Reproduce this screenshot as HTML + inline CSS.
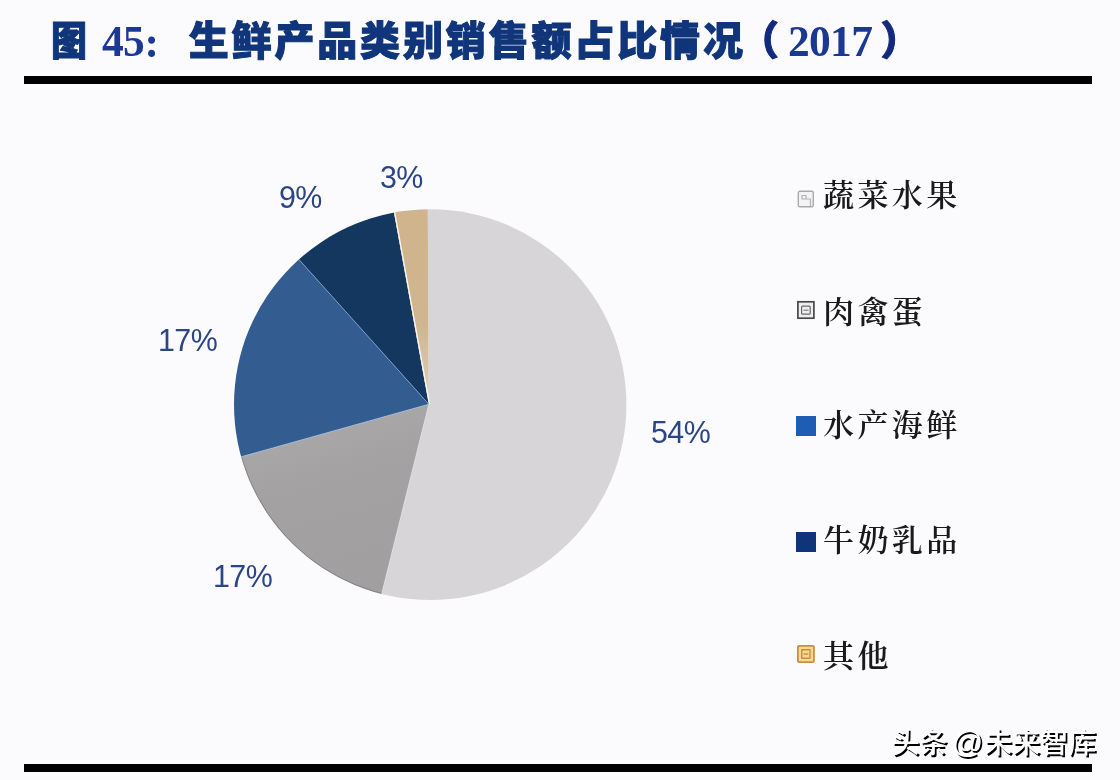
<!DOCTYPE html>
<html lang="zh-CN">
<head>
<meta charset="utf-8">
<title>图 45：生鲜产品类别销售额占比情况（2017）</title>
<style>
  html, body { margin: 0; padding: 0; }
  body {
    width: 1120px; height: 780px; overflow: hidden; position: relative;
    background: #fbfbfe;
    font-family: "Liberation Sans", "Noto Sans CJK SC", sans-serif;
  }
  h1, figure, ul, li, p { margin: 0; padding: 0; font-weight: inherit; font-size: inherit; list-style: none; }
  .abs { position: absolute; display: block; white-space: nowrap; line-height: 1; }

  /* horizontal rules */
  .rule { position: absolute; left: 24px; width: 1068.2px; height: 8px; background: #000; }
  #rule-top { top: 76px; }
  #rule-bottom { top: 764px; }

  /* title */
  #title { position: absolute; left: 0; top: 0; width: 1120px; height: 76px; }
  .t-cjk { font-family: "Liberation Serif", "Noto Sans CJK SC", sans-serif; font-weight: 900; font-size: 40px;
           color: #10357a; -webkit-text-stroke: 1px #10357a; top: 21.8px; }
  .t-num { font-family: "Liberation Serif", "Noto Serif CJK SC", serif; font-weight: 700; font-size: 43.5px;
           letter-spacing: -0.7px; color: #1b3893; top: 19.5px; }
  .t-par { color: #13297d; -webkit-text-stroke-color: #13297d; }

  /* pie */
  #chart { position: absolute; left: 0; top: 0; width: 1120px; height: 780px; }
  #pie { position: absolute; left: 0; top: 0; }
  .lbl { font-family: "Liberation Sans", sans-serif; font-size: 32px; letter-spacing: -0.6px; color: #2b4587;
         transform: scaleX(0.95); transform-origin: 0 50%; }

  /* legend */
  #legend { position: absolute; left: 0; top: 0; }
  .lg { font-family: "Liberation Serif", "Noto Serif CJK SC", serif; font-weight: 600; font-size: 31px;
        letter-spacing: 3.4px; color: #1a1a1a; left: 823px; }
  .mk { position: absolute; display: block; left: 796px; width: 20px; height: 20px; }

  /* watermark */
  #wm { font-family: "Liberation Sans", "Noto Sans CJK SC", sans-serif; font-size: 28px; font-weight: 500; color: #fff;
        text-shadow: 1.8px 1.8px 0.3px #000; left: 891.5px; top: 726.5px; }
  #wm .at { font-size: 31px; margin: 0 1px 0 -3.5px; }
</style>
</head>
<body>

  <h1 id="title">
    <span class="abs t-cjk" id="t1" style="left:48.8px; transform:scaleX(0.9); transform-origin:50% 50%;">图</span>
    <span class="abs t-num" id="t2" style="left:102px;">45</span>
    <span class="abs t-num" id="t3" style="left:144.5px; top:20.5px;">:</span>
    <span class="abs t-cjk" id="t4" style="left:188.7px; letter-spacing:2.85px;">生鲜产品类别销售额占比情况</span>
    <span class="abs t-cjk t-par" id="t5" style="left:739px;">（</span>
    <span class="abs t-num" id="t6" style="left:788px;">2017</span>
    <span class="abs t-cjk t-par" id="t7" style="left:880.5px;">）</span>
  </h1>

  <div class="rule" id="rule-top"></div>

  <figure id="chart">
    <svg id="pie" width="1120" height="780" viewBox="0 0 1120 780">
      <defs>
        <clipPath id="disc"><ellipse cx="430.2" cy="404.6" rx="196.2" ry="195.4"/></clipPath>
        <clipPath id="wedge2"><path d="M428.8 404.2 L327.4 811.8 L224.8 771.3 L136.2 705.5 L67.8 618.9 L24.4 517.5 Z"/></clipPath>
        <linearGradient id="tg" gradientUnits="userSpaceOnUse" x1="0" y1="209" x2="0" y2="404">
          <stop offset="0" stop-color="#cfb48c"/>
          <stop offset="0.6" stop-color="#d0b690"/>
          <stop offset="0.9" stop-color="#d8cab2"/>
          <stop offset="1" stop-color="#d7d5d8"/>
        </linearGradient>
        <linearGradient id="gg" gradientUnits="userSpaceOnUse" x1="300" y1="430" x2="345" y2="590">
          <stop offset="0" stop-color="#a9a7a8"/>
          <stop offset="0.35" stop-color="#a3a1a2"/>
          <stop offset="1" stop-color="#a19fa0"/>
        </linearGradient>
      </defs>
      <g clip-path="url(#disc)">
        <!-- 54% 蔬菜水果 -->
        <path d="M428.8 404.2 L426.6 -15.8 L568.3 8.0 L691.9 76.8 L785.7 182.8 L839.0 313.9 L845.7 455.3 L805.1 590.8 L721.7 705.2 L605.2 785.4 L468.6 822.3 L327.4 811.8 Z" fill="#d7d5d8"/>
        <!-- 17% 肉禽蛋 -->
        <path d="M428.8 404.2 L327.4 811.8 L224.8 771.3 L136.2 705.5 L67.8 618.9 L24.4 517.5 Z" fill="url(#gg)"/>
        <!-- 17% 水产海鲜 -->
        <path d="M428.8 404.2 L24.4 517.5 L8.8 402.1 L25.5 286.8 L73.3 180.6 L148.3 91.6 Z" fill="#335d91"/>
        <!-- 9% 牛奶乳品 -->
        <path d="M428.8 404.2 L148.3 91.6 L244.0 27.0 L353.7 -9.0 Z" fill="#13375f"/>
        <!-- 3% 其他 -->
        <path d="M428.8 404.2 L353.7 -9.0 L426.6 -15.8 Z" fill="url(#tg)"/>
        <g stroke="#ffffff" stroke-width="1" stroke-opacity="0.55" fill="none">
          <line x1="428.8" y1="404.2" x2="327.4" y2="811.8" stroke-opacity="0.35"/>
          <line x1="428.8" y1="404.2" x2="24.4" y2="517.5" stroke="#b9d0f2"/>
          <line x1="428.8" y1="404.2" x2="148.3" y2="91.6" stroke="#9fc0f5"/>
          <line x1="429.6" y1="404.2" x2="354.5" y2="-9.0" stroke-opacity="0.9" stroke-width="1.2"/>
        </g>
      </g>
      <ellipse cx="430.2" cy="404.6" rx="195.8" ry="195" fill="none" stroke="#4d4d4f" stroke-opacity="0.4" stroke-width="0.9" clip-path="url(#wedge2)"/>
    </svg>

    <span class="abs lbl" id="l54" style="left:651px; top:416px;">54%</span>
    <span class="abs lbl" id="l17a" style="left:213px; top:560px;">17%</span>
    <span class="abs lbl" id="l17b" style="left:157.5px; top:324px;">17%</span>
    <span class="abs lbl" id="l9" style="left:279px; top:180.5px;">9%</span>
    <span class="abs lbl" id="l3" style="left:379.5px; top:160.5px;">3%</span>
  </figure>

  <ul id="legend">
    <li>
      <svg class="mk" id="m1" viewBox="0 0 20 20" style="top:188.5px;">
        <rect x="2.3" y="2.3" width="15" height="15.5" rx="1.5" fill="#f3f3f5" stroke="#a9a9ab" stroke-width="1.4"/>
        <path d="M6 6.5 H10 V10 H6 Z M10 10 H14.5 V17" fill="none" stroke="#b3b3b5" stroke-width="1.2"/>
      </svg>
      <span class="abs lg" id="g1" style="top:179.5px;">蔬菜水果</span>
    </li>
    <li>
      <svg class="mk" id="m2" viewBox="0 0 20 20" style="top:300px;">
        <rect x="1.9" y="1.8" width="16" height="16.4" fill="#ededef" stroke="#474747" stroke-width="1.7"/>
        <rect x="5.6" y="6.2" width="8.6" height="8" rx="1" fill="none" stroke="#6a6a6a" stroke-width="1.2"/>
        <path d="M7.5 10.2 H12.5" fill="none" stroke="#7a7a7a" stroke-width="1.1"/>
      </svg>
      <span class="abs lg" id="g2" style="top:296.5px;">肉禽蛋</span>
    </li>
    <li>
      <span class="mk" id="m3" style="top:416px; background:#1f5cb3;"></span>
      <span class="abs lg" id="g3" style="top:409.5px;">水产海鲜</span>
    </li>
    <li>
      <span class="mk" id="m4" style="top:532px; background:#0f347a;"></span>
      <span class="abs lg" id="g4" style="top:525px;">牛奶乳品</span>
    </li>
    <li>
      <svg class="mk" id="m5" viewBox="0 0 20 20" style="top:644.2px;">
        <rect x="1.9" y="1.9" width="16" height="16.2" rx="1" fill="#f6d98f" stroke="#c9903e" stroke-width="1.8"/>
        <rect x="5.8" y="5.8" width="8.2" height="8.4" fill="none" stroke="#b07a2e" stroke-width="1.1"/>
        <path d="M7.6 10 H12.2" fill="none" stroke="#b07a2e" stroke-width="1.1"/>
      </svg>
      <span class="abs lg" id="g5" style="top:640.8px;">其他</span>
    </li>
  </ul>

  <p class="abs" id="wm">头条 <span class="at">@</span>未来智库</p>

  <div class="rule" id="rule-bottom"></div>

</body>
</html>
